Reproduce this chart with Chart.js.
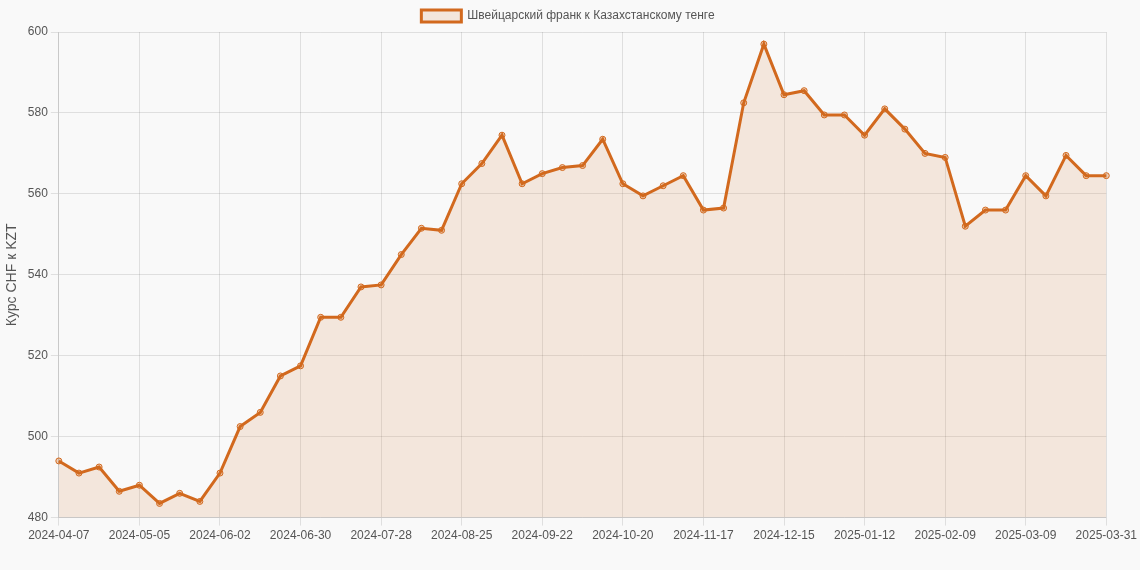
<!DOCTYPE html>
<html><head><meta charset="utf-8">
<script src="https://cdn.jsdelivr.net/npm/chart.js@4/dist/chart.umd.min.js"></script>
<style>html,body{margin:0;padding:0;background:#f9f9f9;}#w{width:1140px;height:570px;}</style>
</head><body><div id="w"><canvas id="c"></canvas></div>
<script>
const labels = ["2024-04-07","2024-04-14","2024-04-21","2024-04-28","2024-05-05","2024-05-12","2024-05-19","2024-05-26","2024-06-02","2024-06-09","2024-06-16","2024-06-23","2024-06-30","2024-07-07","2024-07-14","2024-07-21","2024-07-28","2024-08-04","2024-08-11","2024-08-18","2024-08-25","2024-09-01","2024-09-08","2024-09-15","2024-09-22","2024-09-29","2024-10-06","2024-10-13","2024-10-20","2024-10-27","2024-11-03","2024-11-10","2024-11-17","2024-11-24","2024-12-01","2024-12-08","2024-12-15","2024-12-22","2024-12-29","2025-01-05","2025-01-12","2025-01-19","2025-01-26","2025-02-02","2025-02-09","2025-02-16","2025-02-23","2025-03-02","2025-03-09","2025-03-16","2025-03-23","2025-03-30","2025-03-31"];
const rates = [494,491,492.5,486.5,488,483.5,486,484,491,502.5,506,515,517.5,529.5,529.5,537,537.5,545,551.5,551,562.5,567.5,574.5,562.5,565,566.5,567,573.5,562.5,559.5,562,564.5,556,556.5,582.5,597,584.5,585.5,579.5,579.5,574.5,581,576,570,569,552,556,556,564.5,559.5,569.5,564.5,564.5];
const seriesName = "Швейцарский франк к Казахстанскому тенге";
const yTitle = "Курс CHF к KZT";
Chart.defaults.font.family = "'Liberation Sans', Arial, sans-serif";
Chart.defaults.color = "#555";
new Chart(document.getElementById('c'), {
  type: 'line',
  data: { labels, datasets: [{ label: seriesName, data: rates, borderColor: '#d2691e', backgroundColor: 'rgba(210,105,30,0.13)', fill: true, borderWidth: 3, tension: 0, pointRadius: 3, pointBackgroundColor: 'rgba(210,105,30,0.3)', pointBorderColor: '#d2691e', pointBorderWidth: 1 }] },
  options: {
    responsive: true, maintainAspectRatio: false, animation: false,
    layout: { padding: { right: 4, bottom: 24 } },
    plugins: { legend: { labels: { boxWidth: 40, boxHeight: 12, font: { size: 12 } } } },
    scales: {
      x: { grid: { color: 'rgba(0,0,0,0.1)' }, ticks: { autoSkip: false, maxRotation: 0, font: { size: 12 },
        callback: function(v, i) { return (i % 4 === 0 || i === labels.length - 1) ? labels[i] : null; } } },
      y: { min: 480, max: 600, ticks: { stepSize: 20, font: { size: 12 } }, grid: { color: 'rgba(0,0,0,0.1)' },
        title: { display: true, text: yTitle, font: { size: 14 } } }
    }
  }
});
</script></body></html>
